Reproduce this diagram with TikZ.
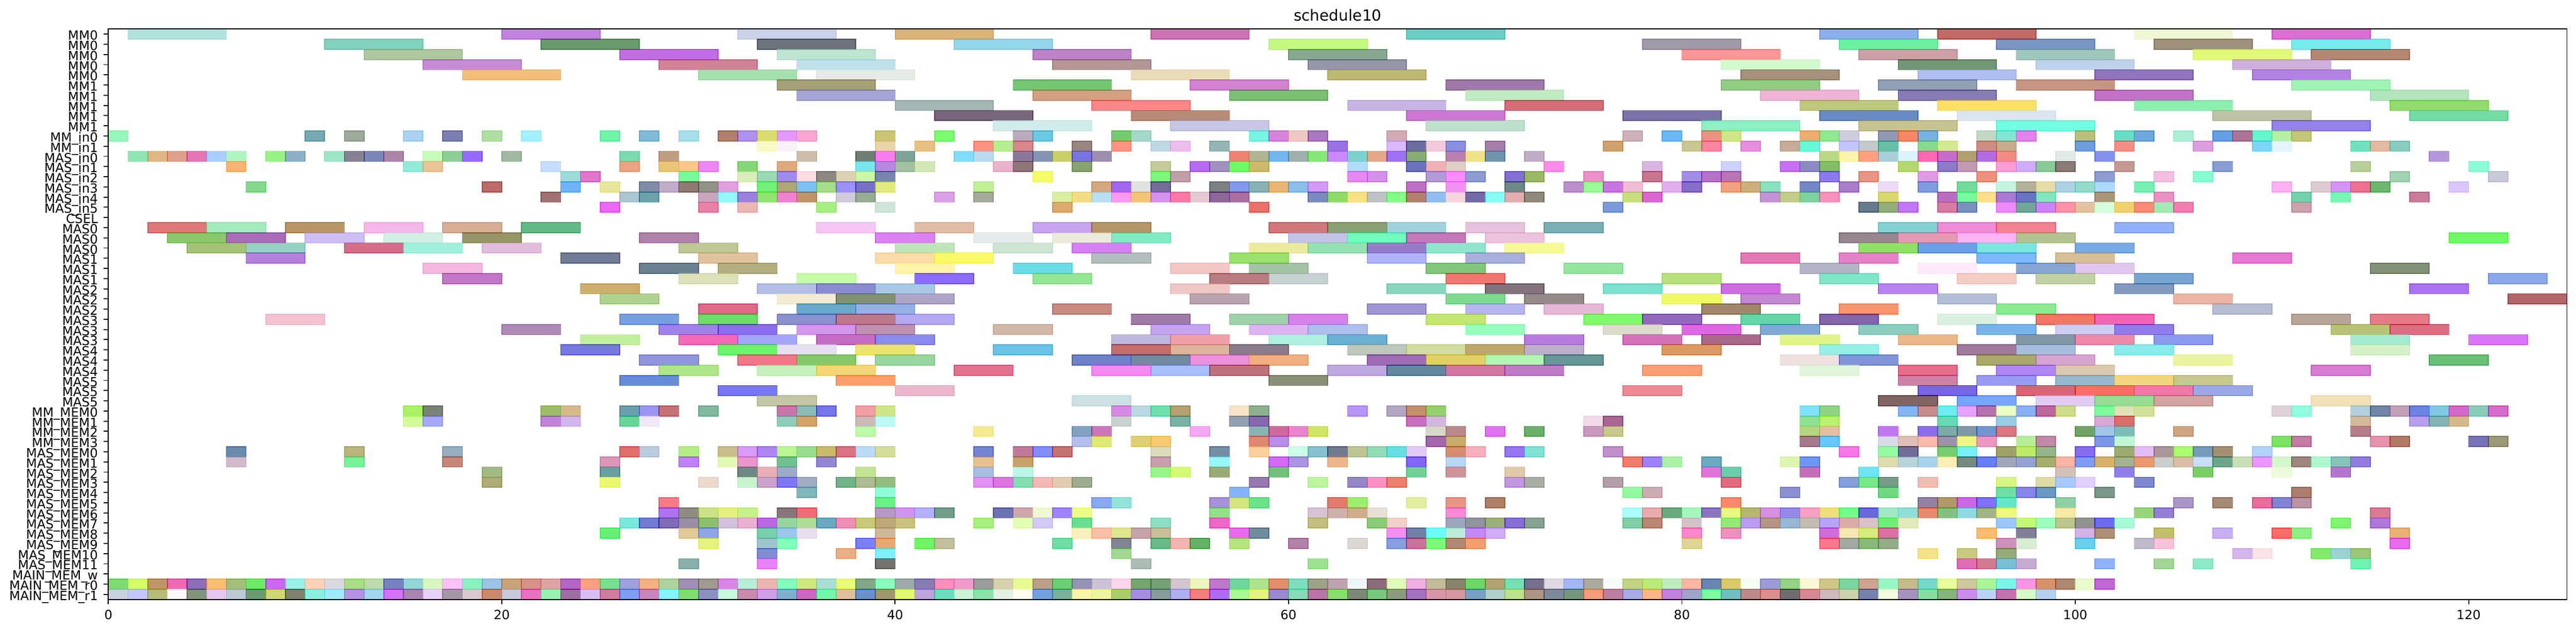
\documentclass[tikz,border=0pt]{standalone}
\usepackage{fontspec}
\setmainfont{DejaVu Sans}
\newcommand\mybarrow[3]{%
  \foreach \s in {#3} {%
    \pgfmathsetmacro\bcR{rnd}\pgfmathsetmacro\bcG{rnd}\pgfmathsetmacro\bcB{rnd}%
    \definecolor{bc}{rgb}{\bcR,\bcG,\bcB}%
    \path[barbox] (\s,55-#1) rectangle ++(#2,1);
  }}
\newcommand\mycbar[3]{%
  \foreach \s/\xR/\xG/\xB in {#3} {%
    \pgfmathsetmacro\bcR{max(0,min(1,(\xR/255-0.4)/0.6))}%
    \pgfmathsetmacro\bcG{max(0,min(1,(\xG/255-0.4)/0.6))}%
    \pgfmathsetmacro\bcB{max(0,min(1,(\xB/255-0.4)/0.6))}%
    \definecolor{bc}{rgb}{\bcR,\bcG,\bcB}%
    \path[barbox] (\s,55-#1) rectangle ++(#2,1);
  }}
\begin{document}
\begin{tikzpicture}[x=0.42467cm,y=0.21996cm,
  barbox/.style={draw=bc,fill=bc,opacity=0.6,line width=0.55pt},
  spine/.style={line width=0.6pt,black},
  tickmark/.style={line width=0.6pt,black},
  ylabel/.style={anchor=east,inner sep=0pt,text height=0.73em,text depth=0pt,font=\fontsize{7.77pt}{9pt}\selectfont},
  xlabel/.style={anchor=north,inner sep=0pt,font=\fontsize{7.77pt}{9pt}\selectfont},
  titlestyle/.style={anchor=base,inner sep=0pt,font=\fontsize{9.39pt}{11pt}\selectfont}]
\useasboundingbox (-5.510,-3.069) rectangle (125.46,58.85);
\fill[white] (-5.510,-3.069) rectangle (125.46,58.85);
\pgfmathsetseed{20240610}
% length-5 rows (MM0, MM1)
\mycbar{0}{5}{1/178/226/222,20/195/130/225,32/205/210/235,40/220/180/120,53/205/115/180,66/110/205/200,87/140/175/235,93/195/105/100,103/240/248/215,110/220/110/210}
\mycbar{1}{5}{11/130/210/190,22/105/155/110,33/110/115/125,43/150/215/235,59/195/250/130,78/160/155/170,88/110/240/160,96/125/150/195,104/160/145/125,111/120/235/235}
\mycbar{2}{5}{13/175/200/160,26/195/110/230,34/190/230/210,47/190/130/200,60/135/170/145,80/250/150/150,89/205/160/170,97/160/200/190,106/225/250/120,112/180/135/115}
\mycbar{3}{5}{16/200/140/215,28/210/130/150,35/190/225/235,48/180/150/150,61/150/150/170,82/210/250/205,91/115/150/120,98/190/210/235,108/205/175/220}
\mycbar{4}{5}{18/245/190/120,30/165/225/175,36/230/235/230,52/235/220/185,62/190/185/115,83/165/145/125,92/175/190/240,101/145/115/190,109/180/130/230}
\mycbar{5}{5}{34/165/160/120,46/115/200/115,55/210/130/210,68/160/120/170,82/145/205/130,90/145/160/180,97/200/150/130,111/160/245/180}
\mycbar{6}{5}{35/165/165/215,47/210/160/130,57/125/190/115,69/195/235/195,84/240/180/215,91/135/125/180,101/195/115/200,115/180/228/190}
\mycbar{7}{5}{40/165/185/180,50/255/135/135,63/200/180/230,71/215/110/120,86/190/200/125,93/250/225/100,103/140/240/175,116/145/220/110}
\mycbar{8}{5}{42/120/100/125,52/185/140/120,66/205/120/210,77/125/115/170,87/105/140/195,94/220/230/240,107/190/195/165,117/115/220/165}
\mycbar{9}{5}{45/210/235/235,54/200/200/230,67/190/225/205,81/140/240/195,89/200/195/145,96/115/255/225,110/150/130/235}
% unit rows
\mybarrow{10}{1}{0,10,12,15,17,19,21,25,27,29,31,32,33,34,35,39,42,46,47,51,52,58,59,60,61,65,77,79,81,82,86,87,88,90,91,92,95,96,97,100,102,103,105,107,108,109,110,111}
\mybarrow{11}{1}{33,34,39,41,44,45,46,49,51,53,54,56,62,65,66,67,68,70,76,80,81,83,85,86,88,89,90,92,93,95,96,100,102,106,109,110,114,115,116}
\mybarrow{12}{1}{1,2,3,4,5,6,8,9,11,12,13,14,16,17,18,20,26,28,35,38,39,40,43,44,46,47,48,49,50,57,58,59,60,61,62,63,64,65,66,68,69,70,72,87,88,89,90,91,92,93,94,95,96,99,101,118}
\mybarrow{13}{1}{6,15,16,22,26,28,29,30,32,34,38,39,40,41,45,46,49,53,55,56,57,58,63,66,67,68,73,78,82,85,86,87,91,93,94,96,97,98,99,102,107,114,120}
\mybarrow{14}{1}{23,24,29,32,33,34,35,36,37,38,39,47,53,54,63,64,67,68,69,71,72,75,78,80,81,82,87,89,92,95,101,104,106,116,121}
\mybarrow{15}{1}{7,19,23,25,27,28,29,30,31,33,34,35,36,37,38,39,44,50,51,52,53,56,57,58,59,60,61,66,68,71,74,75,76,77,79,80,82,83,84,86,88,90,92,94,96,97,98,99,100,101,103,110,112,113,114,115,119}
\mybarrow{16}{1}{22,26,27,30,31,32,33,34,35,37,38,42,44,48,49,50,51,52,53,54,55,56,57,61,62,63,64,65,66,67,68,69,70,71,72,77,78,84,85,86,87,90,93,94,95,96,97,98,101,104,111,113,117}
\mybarrow{17}{1}{25,30,32,36,39,48,58,76,89,90,91,93,94,96,97,98,99,100,101,102,103,104,105,111}
% length-3 rows (MAS0..MAS5)
\mycbar{19}{3}{2/225/120/120,5/165/235/190,9/185/150/100,13/245/185/235,17/215/175/150,21/100/185/135,36/245/200/245,41/225/190/165,47/200/165/240,50/180/150/105,59/210/120/125,62/140/160/115,65/160/210/220,69/230/195/220,73/125/175/180,90/130/210/210,93/240/140/215,96/245/130/145,102/145/175/250}
\mycbar{20}{3}{3/140/200/110,6/170/110/185,10/205/190/245,14/210/240/230,18/150/150/105,27/175/130/170,39/220/130/245,44/230/235/235,48/235/235/220,51/130/235/195,60/195/195/230,63/110/255/190,66/195/120/185,70/235/195/220,88/150/135/145,91/230/155/180,94/250/180/245,97/180/195/145,119/110/250/100}
\mycbar{21}{3}{4/165/195/120,7/150/210/195,12/215/110/140,15/160/240/220,19/225/190/220,29/190/200/150,40/190/230/185,45/205/230/210,49/215/130/245,58/235/235/160,61/150/225/180,64/150/125/200,67/145/230/205,71/245/250/150,89/145/225/100,92/110/160/230,95/125/230/220,100/120/170/230}
\mycbar{22}{3}{7/180/130/220,23/115/125/150,30/225/195/160,39/250/220/170,42/250/250/100,50/180/190/190,57/155/225/110,64/175/180/250,69/170/175/220,83/230/120/180,88/230/130/200,95/125/185/250,99/215/190/150,108/230/120/210}
\mycbar{23}{3}{16/245/185/225,27/110/130/145,31/180/175/130,40/255/245/170,46/110/220/230,54/245/200/200,58/165/195/165,67/130/200/125,74/150/230/160,86/180/180/200,92/255/235/250,97/135/165/210,100/225/200/240,115/130/145/120}
\mycbar{24}{3}{17/195/120/200,29/220/225/185,35/200/250/170,41/140/110/250,47/150/230/150,56/185/125/130,59/200/210/210,68/240/120/115,79/185/225/125,87/130/230/200,94/245/205/195,98/195/210/165,103/120/165/210,121/140/170/235}
\mycbar{25}{3}{24/205/175/110,33/180/190/230,36/140/140/210,39/170/200/230,54/240/200/200,65/135/215/190,70/130/115/125,76/125/225/205,82/205/110/225,90/185/130/240,102/130/155/190,117/170/115/245}
\mycbar{26}{3}{25/175/210/145,34/240/235/210,37/130/145/115,40/175/165/200,55/185/165/175,68/125/220/145,72/150/140/140,79/240/250/90,83/195/135/210,93/180/190/215,105/235/180/165,122/180/100/105}
\mycbar{27}{3}{30/225/105/140,35/105/170/205,38/150/175/230,48/200/140/130,64/160/150/215,69/185/180/240,73/230/185/215,81/160/135/110,88/250/150/110,96/140/235/145,107/185/190/210}
\mycbar{28}{3}{8/245/195/210,26/120/160/225,30/110/220/105,34/140/145/205,37/190/120/140,40/180/170/240,52/160/125/170,57/160/210/170,60/215/130/235,67/195/230/115,75/130/250/110,78/145/105/190,83/100/215/170,87/130/95/170,93/220/240/225,98/240/120/100,101/240/100/180,111/185/165/155,115/230/125/135}
\mycbar{29}{3}{20/175/140/185,28/160/130/235,31/140/110/240,35/210/150/235,38/190/145/175,45/210/185/170,53/195/165/240,58/220/180/240,61/175/190/235,69/155/255/190,76/220/220/205,80/220/105/225,84/130/170/215,89/140/205/190,95/120/180/235,99/205/205/240,102/145/125/235,113/185/195/120,116/220/110/130}
\mycbar{30}{3}{24/195/240/160,29/245/105/185,32/165/165/250,36/195/110/195,39/140/140/235,51/190/185/220,54/240/160/170,59/175/240/225,62/110/175/210,72/185/125/225,77/210/115/185,81/170/105/140,85/225/245/140,91/235/185/140,97/130/150/165,100/235/140/170,104/140/155/235,114/165/235/210,120/215/120/245}
\mycbar{31}{3}{23/120/120/225,31/110/245/110,34/230/225/240,38/235/230/110,45/110/195/230,51/195/110/110,54/220/180/155,57/140/125/140,63/190/200/190,66/210/220/160,69/190/170/110,72/190/175/205,79/220/155/100,87/150/240/230,94/160/125/155,97/170/190/220,102/140/235/235,114/215/240/200}
\mycbar{32}{3}{27/145/150/220,32/240/120/140,35/135/200/110,39/155/215/160,49/110/130/200,52/115/140/160,55/235/145/220,58/240/175/130,64/160/110/180,67/225/210/100,70/180/245/180,73/105/150/150,85/240/225/225,88/130/150/215,95/170/170/110,98/215/165/210,105/235/245/160,118/110/190/120}
\mycbar{33}{3}{28/175/230/140,33/200/240/190,36/245/215/120,43/225/115/145,50/245/140/240,53/170/190/250,56/190/115/125,62/190/170/225,65/100/135/160,68/210/120/160,71/190/125/200,78/250/160/120,86/225/245/220,91/230/110/140,96/175/135/245,99/220/200/175,112/215/125/210}
\mycbar{34}{3}{26/105/140/215,37/250/160/110,59/140/145/120,91/205/130/165,95/155/155/240,99/155/185/205,102/245/215/130,105/200/200/145}
\mycbar{35}{3}{31/120/120/245,40/235/185/205,77/235/140/150,92/120/100/230,97/215/90/115,100/250/110/100,103/240/120/170,106/155/170/230}
\mycbar{36}{3}{33/195/200/165,49/205/225/230,90/130/95/100,94/120/165/250,98/225/205/245,101/150/220/150,104/210/165/160,112/240/225/185}
% memory rows
\mybarrow{37}{1}{15,16,22,23,26,27,28,30,34,35,36,38,39,51,52,53,54,57,58,63,65,66,67,86,87,91,92,93,94,95,96,97,98,99,101,102,103,110,111,114,115,116,117,118,119,120,121}
\mybarrow{38}{1}{15,16,22,23,26,27,34,35,38,39,51,54,57,58,66,67,75,76,86,87,93,96,101,102,114,117,118,119}
\mybarrow{39}{1}{38,44,49,50,55,58,59,60,61,67,68,70,72,75,76,86,87,90,92,93,94,95,96,100,101,102,105,114}
\mybarrow{40}{1}{49,50,52,53,58,59,67,68,86,87,90,91,92,93,94,95,97,98,101,102,110,111,115,116,120,121}
\mybarrow{41}{1}{6,12,17,26,27,29,31,32,33,34,35,36,37,38,39,44,46,47,48,53,56,58,60,61,62,63,64,65,66,68,69,71,72,76,88,90,91,93,94,96,97,98,100,102,103,104,105,106,107,109}
\mybarrow{42}{1}{6,12,17,25,29,31,32,34,36,44,46,53,56,59,60,62,66,68,77,78,79,81,85,86,90,91,92,93,94,95,96,97,98,99,100,101,102,103,104,105,106,107,108,109,110,111,112,113,114}
\mybarrow{43}{1}{19,25,32,33,34,38,44,46,53,54,56,59,66,68,71,81,82,86,89,99,102,106,110,113}
\mybarrow{44}{1}{19,25,30,32,33,34,35,37,38,39,44,45,46,47,48,49,58,61,63,64,65,71,72,76,82,88,89,90,92,96,98,99,100,103}
\mybarrow{45}{1}{35,39,57,77,78,85,90,96,97,98,101,111}
\mybarrow{46}{1}{28,39,50,51,56,57,58,62,63,66,68,70,82,92,93,94,95,96,99,105,107,109,110,111}
\mybarrow{47}{1}{28,29,30,31,32,34,35,39,40,41,42,45,46,47,48,49,56,61,62,63,64,68,77,78,79,80,81,82,83,84,85,86,87,88,89,90,91,92,93,94,95,96,99,103,104,115}
\mybarrow{48}{1}{26,27,28,29,30,31,32,33,34,35,36,37,38,39,40,44,46,47,49,53,56,61,64,65,68,69,70,71,72,77,78,80,81,82,83,84,85,86,87,88,89,90,91,96,97,98,99,100,101,102,113,115}
\mybarrow{49}{1}{25,29,30,33,34,35,39,49,50,51,52,53,57,58,65,66,67,68,69,70,80,82,87,88,89,90,95,97,100,101,104,107,110,111,116}
\mybarrow{50}{1}{30,33,34,38,39,41,42,48,51,53,54,55,57,60,63,65,66,67,68,69,80,87,88,89,90,96,97,100,103,104,116}
\mybarrow{51}{1}{33,37,39,51,92,94,96,108,109,112,113,114}
\mybarrow{52}{1}{29,33,39,52,61,94,95,96,97,101,104,106,114}
\mybarrow{54}{1}{0,...,101}
\mybarrow{55}{1}{0,...,98}
% axes frame
\draw[spine] (0,0) rectangle (125,56);
% y ticks and labels
\foreach \lab [count=\i from 0] in {MM0,MM0,MM0,MM0,MM0,MM1,MM1,MM1,MM1,MM1,MM\_in0,MM\_in1,MAS\_in0,MAS\_in1,MAS\_in2,MAS\_in3,MAS\_in4,MAS\_in5,CSEL,MAS0,MAS0,MAS0,MAS1,MAS1,MAS1,MAS2,MAS2,MAS2,MAS3,MAS3,MAS3,MAS4,MAS4,MAS4,MAS5,MAS5,MAS5,MM\_MEM0,MM\_MEM1,MM\_MEM2,MM\_MEM3,MAS\_MEM0,MAS\_MEM1,MAS\_MEM2,MAS\_MEM3,MAS\_MEM4,MAS\_MEM5,MAS\_MEM6,MAS\_MEM7,MAS\_MEM8,MAS\_MEM9,MAS\_MEM10,MAS\_MEM11,MAIN\_MEM\_w,MAIN\_MEM\_r0,MAIN\_MEM\_r1} {
  \coordinate (yt\i) at (0,55.5-\i);
  \draw[tickmark] (yt\i) -- ++(-0.2355,0);
  \node[ylabel] (ylab\i) at (-0.518,55.5-\i) {\lab};
}
% x ticks and labels
\foreach \v in {0,20,40,60,80,100,120} {
  \coordinate (xt\v) at (\v,0);
  \draw[tickmark] (xt\v) -- ++(0,-0.455);
  \node[xlabel] (xlab\v) at (\v,-1.02) {\v};
}
\node[titlestyle] (title) at (62.5,56.81) {schedule10};
\end{tikzpicture}
\end{document}
